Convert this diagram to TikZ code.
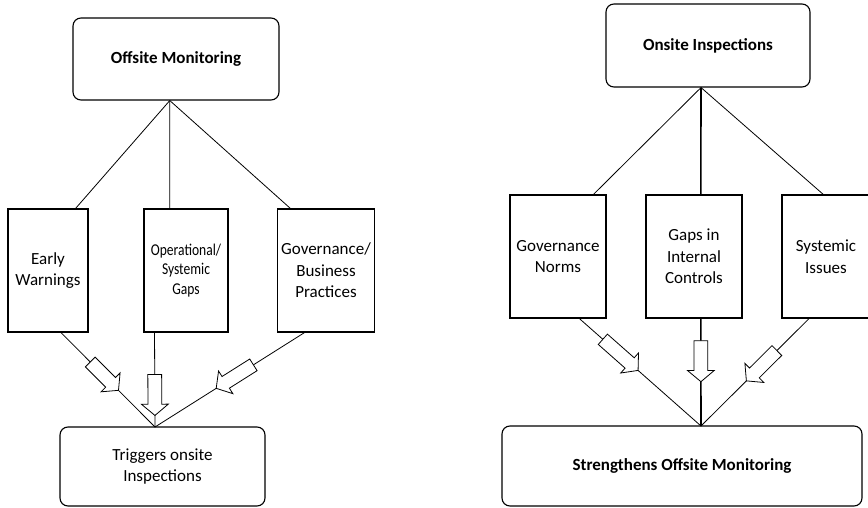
\documentclass[tikz,border=0pt]{standalone}
\usepackage{fontspec}
\setmainfont{Carlito}
\newfontfamily\narrowfont[FakeStretch=0.82]{Carlito}
\usetikzlibrary{calc,shapes.arrows}

\begin{document}
\begin{tikzpicture}[
		x=1pt, y=-1pt,
		every node/.style={
				font=\fontsize{17}{21.5}\selectfont,
				align=center,
			},
		rbox/.style={draw, line width=1.1pt, rounded corners=8pt},
		sbox/.style={draw, line width=1.1pt},
		blockarrow/.style={single arrow, draw, fill=white, line width=0.8pt,
				sloped, allow upside down, inner sep=6.5pt,
				single arrow head extend=6.5pt, single arrow tip angle=100},
	]
	\useasboundingbox (0,0) rectangle (868,508);

	% left: offsite monitoring
	\node[rbox, minimum width=206pt, minimum height=82pt] (om) at (176,59) {\bfseries Offsite Monitoring};
	\node[sbox, minimum width=80pt, minimum height=123pt] (ew) at (48,270.5) {Early\\Warnings};
	\node[sbox, minimum width=84pt, minimum height=123pt, font=\narrowfont\fontsize{16.5}{19.5}\selectfont] (og) at (186,270.5) {Operational/\\Systemic\\Gaps};
	\node[sbox, minimum width=96pt, minimum height=123pt] (gb) at (326,270.5) {Governance/\\Business\\Practices};
	\node[rbox, minimum width=205pt, minimum height=79pt] (tr) at (162.5,466.5) {Triggers onsite\\Inspections};
	\coordinate (t1) at ($(om.south west)!.47!(om.south east)$);
	\coordinate (j1) at (155,427);

	\foreach \b/\f in {ew/.84, og/.31, gb/.135} {
			\draw[line width=0.8pt] (t1) -- ($(\b.north west)!\f!(\b.north east)$);
		}
	\foreach \b/\f/\p/\l in {ew/.66/.44/40, og/.13/.63/41, gb/.28/.45/44} {
			\draw[line width=0.8pt] ($(\b.south west)!\f!(\b.south east)$) -- node[blockarrow, minimum height=\l pt, pos=\p] {} (j1);
		}

	% right: onsite inspections
	\node[rbox, minimum width=204pt, minimum height=83pt] (oi) at (708,45.5) {\bfseries Onsite Inspections};
	\node[sbox, minimum width=96pt, minimum height=123pt] (gn) at (558,256.5) {Governance\\Norms};
	\node[sbox, minimum width=96pt, minimum height=123pt] (gi) at (694,256.5) {Gaps in\\Internal\\Controls};
	\node[sbox, minimum width=88pt, minimum height=123pt] (si) at (826,256.5) {Systemic\\Issues};
	\node[rbox, minimum width=360pt, minimum height=80pt] (so) at (682,466) {\bfseries Strengthens Offsite Monitoring};
	\coordinate (t2) at ($(oi.south west)!.466!(oi.south east)$);
	\coordinate (j2) at (701,426);

	\foreach \b/\f/\w in {gn/.865/0.8, gi/.57/1.6, si/.47/0.8} {
			\draw[line width=\w pt] (t2) -- ($(\b.north west)!\f!(\b.north east)$);
		}
	\foreach \b/\f/\p/\l/\w in {gn/.72/.32/47/0.8, gi/.57/.37/41/1.6, si/.31/.42/43/0.8} {
			\draw[line width=\w pt] ($(\b.south west)!\f!(\b.south east)$) -- node[blockarrow, minimum height=\l pt, pos=\p] {} (j2);
		}
\end{tikzpicture}
\end{document}
